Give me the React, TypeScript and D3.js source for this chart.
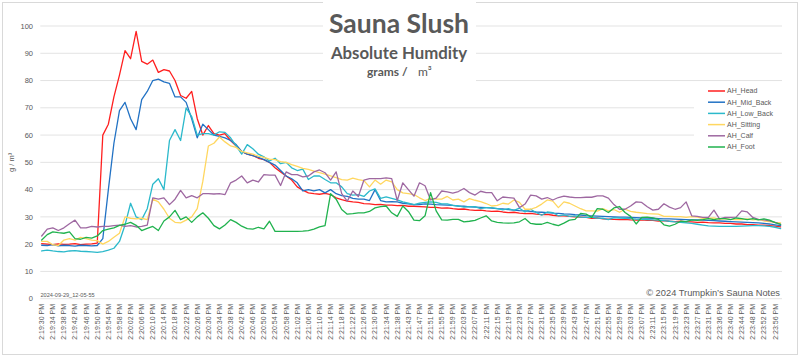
import React from 'react';
import * as d3 from 'd3';

// ---------- data ----------
const timeLabels = [
  '2:19:30 PM','2:19:34 PM','2:19:38 PM','2:19:42 PM','2:19:46 PM','2:19:50 PM','2:19:54 PM','2:19:58 PM',
  '2:20:02 PM','2:20:06 PM','2:20:10 PM','2:20:14 PM','2:20:18 PM','2:20:22 PM','2:20:26 PM','2:20:30 PM',
  '2:20:34 PM','2:20:38 PM','2:20:42 PM','2:20:46 PM','2:20:50 PM','2:20:54 PM','2:20:58 PM',
  '2:21:02 PM','2:21:06 PM','2:21:10 PM','2:21:14 PM','2:21:18 PM','2:21:22 PM','2:21:26 PM','2:21:30 PM',
  '2:21:34 PM','2:21:38 PM','2:21:43 PM','2:21:47 PM','2:21:51 PM','2:21:55 PM','2:21:59 PM',
  '2:22:03 PM','2:22:07 PM','2:22:11 PM','2:22:15 PM','2:22:19 PM','2:22:23 PM','2:22:27 PM','2:22:31 PM',
  '2:22:35 PM','2:22:39 PM','2:22:43 PM','2:22:47 PM','2:22:51 PM','2:22:55 PM','2:22:59 PM',
  '2:23:03 PM','2:23:07 PM','2:23:11 PM','2:23:15 PM','2:23:19 PM','2:23:23 PM','2:23:27 PM','2:23:31 PM',
  '2:23:36 PM','2:23:40 PM','2:23:44 PM','2:23:48 PM','2:23:52 PM','2:23:56 PM',
];
const SAMPLES_PER_LABEL = 4;
const SAMPLES_PER_POINT = 2;
const SAMPLE_COUNT = 267;

const ahHead = [
  20.2, 20.0, 19.8, 20.1, 19.9, 20.0, 20.2, 19.8, 20.0, 20.1, 20.4,
  60, 64, 74, 82, 91, 88, 98, 87, 86, 87.5, 83, 84, 83.5, 80, 74.5, 73.5, 76, 66, 60, 63.5, 60.5, 60, 60.5, 58,
  56, 54, 53, 52.5, 51.5, 51, 50, 48, 46.5, 45, 43.5, 41, 39.8, 38.8, 38.5, 38.3, 38.6, 38.2, 37, 36.3,
  35.8, 35.5, 35.3, 34.9, 34.8, 34.5, 34.6, 34.3, 34.3, 34.1, 34.2, 33.9, 33.9, 33.8,
  33.7, 33.5, 33.5, 33.2, 33.3, 33.0, 32.8, 32.9, 32.6, 32.4, 32.5, 32.2, 32.0, 32.1, 31.8, 31.6, 31.7, 31.4,
  31.2, 31.3, 31.0, 30.8, 30.9, 30.6, 30.4, 30.4, 30.2, 30.0, 29.9, 29.8, 29.5, 29.6, 29.3, 29.2,
  29.1, 29.0, 29.1, 28.9, 28.8, 28.9, 28.7, 28.7, 28.5, 28.6, 28.4, 28.3, 28.4, 28.2, 28.2, 28.0, 28.1,
  27.9, 27.8, 27.8, 27.6, 27.6, 27.4, 27.4, 27.2, 27.2, 27.0, 27.0, 26.8, 26.6, 26.3,
];
const ahMidBack = [
  19.6, 19.5, 19.8, 19.4, 19.6, 19.5, 19.3, 19.6, 19.5, 19.4, 19.5,
  22, 40, 57, 69, 72, 66, 62, 73, 76, 80, 80.5, 79.5, 79, 74, 74, 72, 66, 59, 64, 62, 60, 59.5, 59, 58,
  56.5, 54, 53, 52.5, 51.8, 51, 50, 49, 47, 45, 44, 42.5, 39.5, 40, 39.5, 40, 38.8, 40, 38.5, 37.8,
  37.5, 36.8, 36.5, 36.5, 36, 40, 36, 35.5, 35.6, 35.5, 35, 34.8, 34.5, 34.5,
  34.8, 34.7, 34.5, 34.4, 34.3, 34.2, 34.0, 33.9, 33.7, 33.6, 33.5, 33.4, 33.2, 33.0, 32.9, 32.7, 32.5,
  32.3, 32.2, 32.0, 31.8, 31.7, 31.6, 31.4, 31.3, 31.1, 31.0, 30.8, 30.7, 30.5, 30.4, 30.3, 30.2, 30.1,
  30.0, 29.9, 29.9, 29.8, 29.7, 29.6, 29.6, 29.5, 29.4, 29.3, 29.3, 29.2, 29.1, 29.0, 28.9, 28.9,
  28.8, 28.7, 28.6, 28.5, 28.4, 28.3, 28.2, 28.1, 28.0, 27.9, 27.8, 27.6, 27.4, 27.1, 26.8,
];
const ahLowBack = [
  17.5, 17.8, 17.5, 17.3, 17.2, 17.5, 17.6, 17.4, 17.3, 17.2, 17.0, 17.3, 17.8,
  18.5, 21, 27, 35, 30, 29, 33, 42, 44, 40, 58, 62, 58, 70, 66.8, 60, 60.5, 60.5, 60, 61.2, 61, 59,
  56, 53, 56.5, 55, 53, 52, 50.5, 51.5, 49.5, 50, 48, 47, 47.5, 43.7, 45, 45, 43.7, 42.5, 42.5, 41,
  38.5, 38, 38.2, 37.5, 39.5, 40.3, 36.8, 37.3, 36.8, 36.2, 35.5, 35, 34.5, 35,
  35.3, 35.5, 35.3, 34.8, 34.8, 34.2, 34, 33.6, 33.8, 33.8, 33, 33.4, 33.4, 33, 32.6, 33, 32.4,
  33.2, 31.8, 32.8, 31.6, 30.6, 31.8, 31.6, 30.4, 30.7, 30.2, 30.4, 29.9, 29.8, 29.8, 29.6, 29.5, 29,
  29.7, 29.6, 29.5, 29.4, 29.2, 29.1, 29, 28.9, 28.8, 28.6, 28.4, 28.2, 28, 27.8, 27.6, 27.3,
  27, 26.7, 26.6, 26.5, 26.5, 26.5, 26.5, 26.6, 26.7, 26.8, 26.8, 26.7, 26.5, 26.2, 25.7,
];
const ahSitting = [
  21, 21, 19.8, 19.5, 21.5, 22, 21.5, 22.5, 22, 21.5, 21.3, 20, 21, 22.5, 24, 30, 29.5, 29.3, 29.5, 29,
  36.5, 35.5, 32.8, 29.5, 28, 27.8, 28.8, 30, 33, 43, 56, 57, 59.3, 57.5, 56,
  55.5, 54, 53.5, 53, 52.3, 51.8, 51.2, 51, 50.3, 50, 49.2, 48.5, 47.8, 47.4, 46.8, 46.2, 45.7, 45, 44.4,
  43.7, 43.5, 44.2, 43.7, 43.3, 41, 43.5, 42, 43.5, 42.8, 40, 38.8, 38.5, 38.2, 37,
  36, 36.8, 36.5, 36.5, 37.5, 36.2, 36.5, 35.5, 36.7, 36.1, 35.6, 34.9, 34, 34.2, 35, 34.7, 36.2,
  35.3, 32.8, 32.8, 33.5, 34.7, 36.2, 35.8, 33.4, 35.5, 35, 34, 33, 32.2, 32.2, 32.1, 33, 32.2,
  32.7, 31.7, 32.8, 32, 31.7, 31.5, 31.2, 31.1, 31, 30.2, 30.2, 30.1, 30.1, 29.8, 30.1, 29.9,
  29.5, 29.5, 29.6, 29.1, 29.4, 29.1, 29, 29, 29.3, 28.9, 29.1, 28.5, 28.3, 28, 27.8,
];
const ahCalf = [
  23, 25.5, 26, 25, 26, 27.5, 28.8, 26, 26, 26.5, 26.3, 26.5, 26.5, 26.8, 27, 26.5, 26.8, 26.3, 26.5, 27,
  37, 36.5, 37, 34.5, 36.5, 39.7, 37, 37.8, 37, 38.5, 38.5, 38.4, 38.5, 38.2, 42.5,
  43.5, 45, 42.5, 43.5, 42.8, 45.5, 45.3, 45.3, 41.5, 46.5, 45.5, 45.5, 44.7, 45, 46.5, 47.2, 46.2, 43.5,
  46.5, 38.5, 35.8, 39.5, 37.5, 43.5, 44, 44, 44, 44.3, 44, 36, 42.5, 40, 37.6, 42.5,
  41.4, 36.2, 36.9, 39.5, 39.2, 38.7, 39.3, 40.4, 38.9, 38, 39.4, 38.9, 38.9, 35.9, 37.3, 37.1, 36.9,
  33.4, 34.7, 38, 37.7, 36.5, 37.1, 36.2, 37.1, 37.6, 37.3, 37.1, 37.1, 37.2, 37.2, 37.7, 37.7, 36.9,
  34.5, 32.8, 32.8, 34, 35.5, 35.3, 33.7, 32.5, 32.8, 34.8, 33.6, 32.8, 33.4, 35.5, 30.4, 30.2,
  29.8, 29.8, 32.5, 29.3, 29.8, 29.8, 29.9, 32.2, 31.8, 29.8, 29.1, 28.9, 28.5, 28, 27.3,
];
const ahFoot = [
  21.5, 23.5, 24.5, 24.2, 24, 24.5, 22, 21.8, 22.5, 22.2, 23, 25, 25.5, 26, 26.9, 27.3, 28, 26.9, 25, 25.8,
  26.5, 25, 28.5, 30, 32.4, 29, 30, 28, 30, 31.5, 29.5, 26.8, 25.6, 27, 29,
  28, 26.6, 25.7, 25.5, 26.2, 25.6, 28.4, 24.7, 24.7, 24.7, 24.7, 24.7, 24.8, 25, 25.5, 26.3, 26.8,
  38.5, 36.5, 32.7, 31, 31.2, 31.5, 31.5, 32, 33.3, 33.8, 34, 31.5, 30.2, 34, 32, 28.8, 28.6,
  30.4, 38.9, 32.2, 28.9, 28.8, 29.1, 29.1, 28.2, 28.4, 28.7, 29.6, 30.4, 28.5, 28, 27.8, 27.7, 27.8,
  28.2, 29.4, 27.6, 27.3, 27.3, 28, 27.3, 26.8, 27.7, 28.8, 29.1, 31.3, 31, 29.8, 33, 32.8, 31.6,
  33.3, 33.8, 31.6, 30.2, 27.4, 29.8, 29.9, 29.6, 29.1, 27.1, 26.6, 27.3, 28.4, 28.3, 28.9, 28.7,
  29, 29.4, 29, 29.4, 29.4, 29, 29.6, 29.4, 29, 29.4, 28.9, 29.3, 28.8, 27.9, 27.3,
];

const seriesNames = ['AH_Head', 'AH_Mid_Back', 'AH_Low_Back', 'AH_Sitting', 'AH_Calf', 'AH_Foot'];
const seriesValues = [ahHead, ahMidBack, ahLowBack, ahSitting, ahCalf, ahFoot];
const seriesColors = ['#FF1F1F', '#2272C4', '#2BB9CB', '#FFD760', '#9E68A1', '#20B24E'];
const yTicks = [0, 10, 20, 30, 40, 50, 60, 70, 80, 90, 100];

const chartTitle = 'Sauna Slush';
const chartSubtitle = 'Absolute Humdity';
const unitLeft = 'grams /';
const unitRight = 'm³';
const yAxisTitle = 'g / m³';
const stampText = '2024-09-29_12-05-55';
const copyrightText = '© 2024 Trumpkin\u2019s Sauna Notes';

export default function App() {
  const W = 800;
  const H = 358;
  const left = 40.3;
  const right = 782;
  const top = 26;
  const bottom = 298.7;
  const textColor = '#595959';
  const gridColor = '#E3E3E3';
  const axisFont = '"Liberation Sans", Arial, sans-serif';
  const titleFont = 'Lato, "Open Sans", sans-serif';

  const x = d3.scaleLinear().domain([-0.5, SAMPLE_COUNT - 0.5]).range([left, right]);
  const y = d3.scaleLinear().domain([0, 100]).range([bottom, top]);
  const line = d3
    .line<number>()
    .x((_, j) => x(j * SAMPLES_PER_POINT))
    .y((d) => y(d));

  const legendX = 708;
  const legendY0 = 91;
  const legendDy = 11.2;

  return (
    <svg
      width={W}
      height={H}
      viewBox={`0 0 ${W} ${H}`}
      style={{ position: 'absolute', left: 0, top: 0, background: '#fff' }}
    >
      <rect x={0} y={0} width={W} height={H} fill="#fff" />
      <rect x={2.5} y={2.5} width={795} height={352} fill="none" stroke="#D9D9D9" strokeWidth={1} />

      {yTicks.map((t) => (
        <g key={t}>
          <line x1={left} x2={right} y1={y(t)} y2={y(t)} stroke={gridColor} strokeWidth={1} />
          <text
            x={33}
            y={y(t)}
            dy="0.35em"
            textAnchor="end"
            fontFamily={axisFont}
            fontSize={7.5}
            fill={textColor}
          >
            {t}
          </text>
        </g>
      ))}

      <text
        transform={`translate(14, ${(top + bottom) / 2}) rotate(-90)`}
        textAnchor="middle"
        fontFamily={axisFont}
        fontSize={7.5}
        fill={textColor}
      >
        {yAxisTitle}
      </text>

      {timeLabels.map((lab, k) => {
        const px = x(k * SAMPLES_PER_LABEL);
        return (
          <text
            key={lab}
            transform={`translate(${px}, 304) rotate(-90)`}
            dy="0.35em"
            textAnchor="end"
            fontFamily={axisFont}
            fontSize={7}
            fill={textColor}
          >
            {lab}
          </text>
        );
      })}

      <g fill="none" strokeLinejoin="round" strokeLinecap="round">
        {seriesValues.map((vals, s) => (
          <path key={seriesNames[s]} d={line(vals) || ''} stroke={seriesColors[s]} strokeWidth={1.3} />
        ))}
      </g>

      <text x={40.5} y={296.5} fontFamily={axisFont} fontSize={5.6} fill={textColor}>
        {stampText}
      </text>
      <text x={780} y={296} textAnchor="end" fontFamily={axisFont} fontSize={9.3} fill={textColor}>
        {copyrightText}
      </text>

      {/* title block */}
      <rect x={323} y={0} width={153} height={84} fill="#fff" />
      <text x={399} y={33} textAnchor="middle" fontFamily={titleFont} fontWeight={700} fontSize={26.5} fill={textColor}>
        {chartTitle}
      </text>
      <text x={399} y={59.3} textAnchor="middle" fontFamily={titleFont} fontWeight={700} fontSize={16.8} fill={textColor}>
        {chartSubtitle}
      </text>
      <text x={367} y={76} fontFamily={titleFont} fontWeight={700} fontSize={12} fill={textColor}>
        {unitLeft}
      </text>
      <text x={418} y={76} fontFamily={titleFont} fontWeight={400} fontSize={12} fill={textColor}>
        {unitRight}
      </text>

      {/* legend */}
      <rect x={694} y={84} width={92} height={71} fill="#fff" />
      {seriesNames.map((name, s) => {
        const ly = legendY0 + s * legendDy;
        return (
          <g key={name}>
            <line x1={legendX} x2={legendX + 17} y1={ly} y2={ly} stroke={seriesColors[s]} strokeWidth={1.5} />
            <text x={legendX + 19} y={ly} dy="0.35em" fontFamily={axisFont} fontSize={7} fill={textColor}>
              {name}
            </text>
          </g>
        );
      })}
    </svg>
  );
}
